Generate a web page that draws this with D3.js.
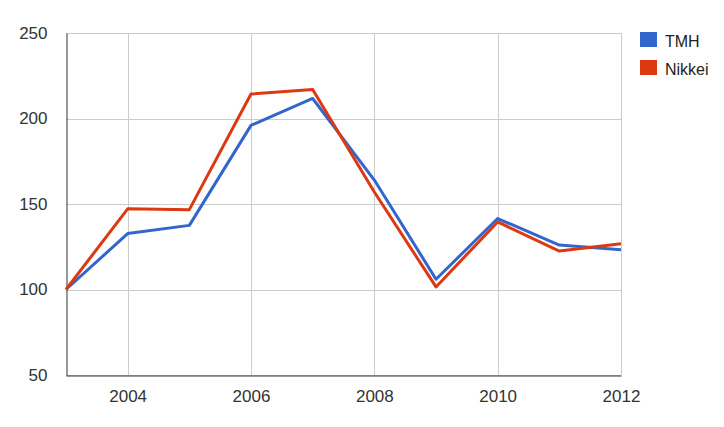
<!DOCTYPE html>
<html>
<head>
<meta charset="utf-8">
<script src="https://cdn.jsdelivr.net/npm/d3@7"></script>
<style>
  html, body { margin: 0; padding: 0; background: #fff; }
  text { font-family: "Liberation Sans", Arial, sans-serif; }
</style>
</head>
<body>
<svg id="chart" width="724" height="427"></svg>
<script>
const years = [2003, 2004, 2005, 2006, 2007, 2008, 2009, 2010, 2011, 2012];
const tmh = [100, 132.7, 137.5, 196, 211.7, 164, 106, 141.5, 126, 123.2];
const nikkei = [100, 147.2, 146.7, 214.3, 217, 157, 101.5, 139.5, 122.5, 126.8];
const seriesNames = ["TMH", "Nikkei"];
const seriesColors = ["#3366cc", "#dc3912"];
const yTicks = [50, 100, 150, 200, 250];
const xTicks = [2004, 2006, 2008, 2010, 2012];

const svg = d3.select("#chart");
const m = { left: 66, right: 621, top: 33, bottom: 375 };

const x = d3.scaleLinear().domain([2003, 2012]).range([m.left, m.right]);
const y = d3.scaleLinear().domain([50, 250]).range([m.bottom, m.top]);

// gridlines
const grid = svg.append("g");
grid.selectAll("line.h").data(yTicks).join("line")
  .attr("x1", m.left).attr("x2", m.right)
  .attr("y1", d => Math.round(y(d)) + 0.5).attr("y2", d => Math.round(y(d)) + 0.5)
  .attr("stroke", "#cccccc").attr("stroke-width", 1);
grid.selectAll("line.v").data(xTicks).join("line")
  .attr("y1", m.top).attr("y2", m.bottom)
  .attr("x1", d => Math.round(x(d)) + 0.5).attr("x2", d => Math.round(x(d)) + 0.5)
  .attr("stroke", "#cccccc").attr("stroke-width", 1);

// axes
const yAxis = d3.axisLeft(y).tickValues(yTicks).tickSize(0).tickPadding(19);
const gy = svg.append("g").attr("transform", `translate(${m.left + 0.5},0)`).call(yAxis);
gy.select(".domain").attr("stroke", "#333333");
gy.selectAll("text").attr("font-size", 17).attr("fill", "#333333")
  .attr("font-family", "'Liberation Sans', Arial, sans-serif");

const xAxis = d3.axisBottom(x).tickValues(xTicks).tickSize(0).tickPadding(14).tickFormat(d3.format("d"));
const gx = svg.append("g").attr("transform", `translate(0,${m.bottom + 0.5})`).call(xAxis);
gx.select(".domain").attr("stroke", "#333333");
gx.selectAll("text").attr("font-size", 17).attr("fill", "#333333")
  .attr("font-family", "'Liberation Sans', Arial, sans-serif");

// lines
const line = d3.line().x((d, i) => x(years[i])).y(d => y(d));
[tmh, nikkei].forEach((s, i) => {
  svg.append("path").datum(s)
    .attr("d", line)
    .attr("fill", "none")
    .attr("stroke", seriesColors[i])
    .attr("stroke-width", 3)
    .attr("stroke-linejoin", "round");
});

// legend
const lg = svg.append("g").attr("transform", "translate(640,32)");
seriesNames.forEach((n, i) => {
  const g = lg.append("g").attr("transform", `translate(0,${i * 28})`);
  g.append("rect").attr("width", 17).attr("height", 15).attr("fill", seriesColors[i]);
  g.append("text").attr("x", 25).attr("y", 15).attr("font-size", 16).attr("fill", "#222222").text(n);
});
</script>
</body>
</html>
